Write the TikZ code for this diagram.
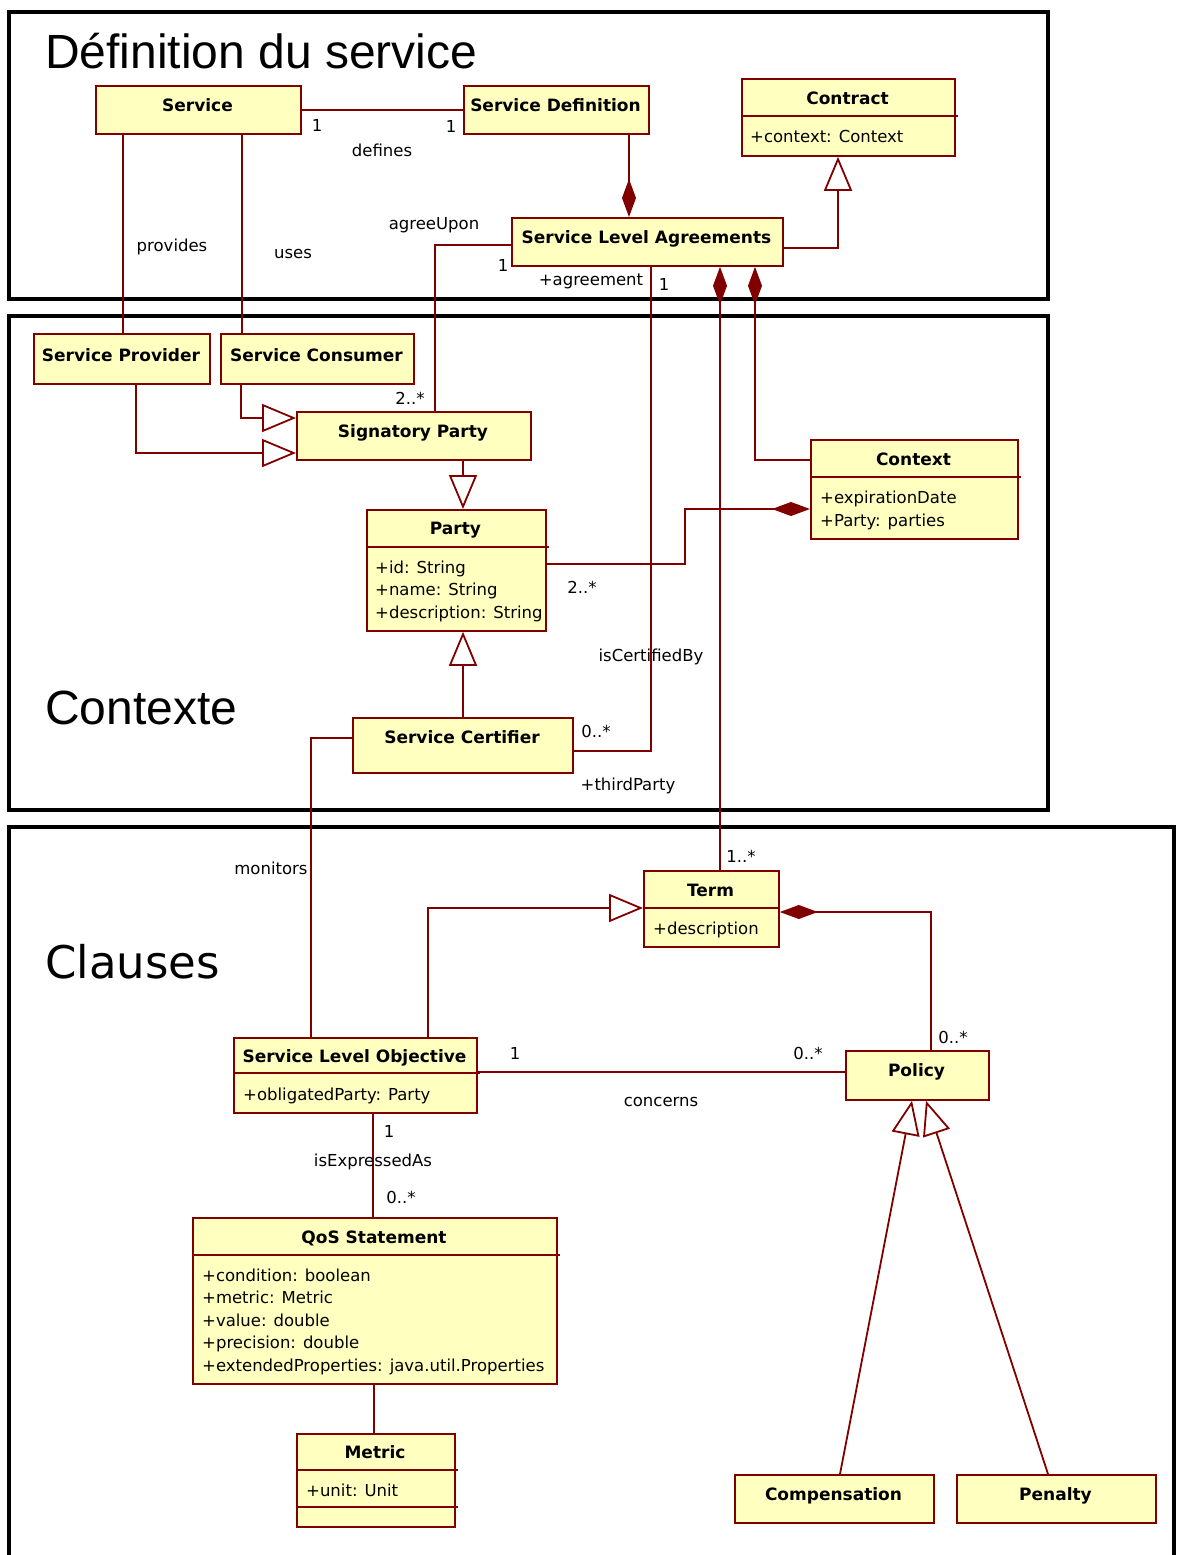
\documentclass[tikz,border=0pt]{standalone}
\usepackage{fontspec}
\setmainfont{DejaVu Sans}
\newfontfamily\titlefont{Liberation Sans}
\newfontfamily\titlefontb{DejaVu Sans}
\usetikzlibrary{arrows.meta}
\definecolor{umlred}{RGB}{128,0,0}
\definecolor{umlfill}{RGB}{255,255,192}
\begin{document}
\begin{tikzpicture}[x=1pt,y=-1pt,
  cls/.style={draw=umlred, fill=umlfill, line width=1.8pt, inner sep=0pt, anchor=north west, rectangle},
  ttl/.style={font=\fontsize{17}{20}\selectfont\bfseries, anchor=base, inner sep=0pt},
  attr/.style={font=\fontsize{16.5}{20}\selectfont, anchor=base west, inner sep=0pt},
  lbl/.style={font=\fontsize{16.5}{20}\selectfont, anchor=base, inner sep=0pt},
  sepline/.style={draw=umlred, line width=1.8pt},
  conn/.style={draw=umlred, line width=1.8pt},
  gen/.style={conn, -{Triangle[open, length=34pt, width=28pt, fill=white]}},
  comp/.style={conn, -{Diamond[length=38pt, width=14pt, fill=umlred]}},
  frame/.style={draw=black, line width=4pt},
  big/.style={font=\titlefont\fontsize{48}{56}\selectfont, anchor=base west, inner sep=0pt}
]
\useasboundingbox (0,0) rectangle (1176,1555);
\clip (0,0) rectangle (1176,1555);
\fill[white] (0,0) rectangle (1176,1555);

% frames
\draw[frame] (9,12) rectangle (1048,299);
\draw[frame] (9,316) rectangle (1048,810);
\draw[frame] (9,827) rectangle (1174,1600);
\node[big] (t1) at (45,68) {Définition du service};
\node[big] (t2) at (45,724) {Contexte};
\node[big, font=\titlefontb\fontsize{45}{54}\selectfont] (t3) at (45,978) {Clauses};

% class boxes
\node[cls, minimum width=205pt, minimum height=48pt] (service) at (95,85) {};
\node[cls, minimum width=185pt, minimum height=48pt] (sdef) at (463,85) {};
\node[cls, minimum width=213pt, minimum height=77pt] (contract) at (741,78) {};
\node[cls, minimum width=271pt, minimum height=48pt] (sla) at (511,217) {};
\node[cls, minimum width=176pt, minimum height=50pt] (sprov) at (33,333) {};
\node[cls, minimum width=193pt, minimum height=50pt] (scons) at (220,333) {};
\node[cls, minimum width=234pt, minimum height=48pt] (sig) at (296,411) {};
\node[cls, minimum width=179pt, minimum height=121pt] (party) at (366,509) {};
\node[cls, minimum width=207pt, minimum height=99pt] (context) at (810,439) {};
\node[cls, minimum width=220pt, minimum height=55pt] (scert) at (352,717) {};
\node[cls, minimum width=135pt, minimum height=76pt] (term) at (643,870) {};
\node[cls, minimum width=243pt, minimum height=75pt] (slo) at (233,1037) {};
\node[cls, minimum width=143pt, minimum height=49pt] (policy) at (845,1050) {};
\node[cls, minimum width=364pt, minimum height=166pt] (qos) at (192,1217) {};
\node[cls, minimum width=158pt, minimum height=93pt] (metric) at (296,1433) {};
\node[cls, minimum width=199pt, minimum height=48pt] (compens) at (734,1474) {};
\node[cls, minimum width=199pt, minimum height=48pt] (pen) at (956,1474) {};

% compartment separators
\coordinate (s1) at (0,116);
\coordinate (s2) at (0,547);
\coordinate (s3) at (0,477);
\coordinate (s4) at (0,908);
\coordinate (s5) at (0,1073);
\coordinate (s6) at (0,1255);
\coordinate (s7) at (0,1470);
\coordinate (s8) at (0,1507);
\draw[sepline] (contract.west |- s1) -- ([xshift=2pt]contract.east |- s1);
\draw[sepline] (party.west |- s2) -- ([xshift=2pt]party.east |- s2);
\draw[sepline] (context.west |- s3) -- ([xshift=2pt]context.east |- s3);
\draw[sepline] (term.west |- s4) -- (term.east |- s4);
\draw[sepline] (slo.west |- s5) -- ([xshift=2pt]slo.east |- s5);
\draw[sepline] (qos.west |- s6) -- ([xshift=2pt]qos.east |- s6);
\draw[sepline] (metric.west |- s7) -- ([xshift=2pt]metric.east |- s7);
\draw[sepline] (metric.west |- s8) -- ([xshift=2pt]metric.east |- s8);

% class names
\node[ttl] (n-service) at (197.5,111) {Service};
\node[ttl] (n-sdef) at (555.5,111) {Service Definition};
\node[ttl] (n-contract) at (847.5,104) {Contract};
\node[ttl] (n-sla) at (646.5,243) {Service Level Agreements};
\node[ttl] (n-sprov) at (121,361) {Service Provider};
\node[ttl] (n-scons) at (316.5,361) {Service Consumer};
\node[ttl] (n-sig) at (413,437) {Signatory Party};
\node[ttl] (n-party) at (455.5,534) {Party};
\node[ttl] (n-context) at (913.5,465) {Context};
\node[ttl] (n-scert) at (462,743) {Service Certifier};
\node[ttl] (n-term) at (710.5,896) {Term};
\node[ttl] (n-slo) at (354.5,1062) {Service Level Objective};
\node[ttl] (n-policy) at (916.5,1076) {Policy};
\node[ttl] (n-qos) at (374,1243) {QoS Statement};
\node[ttl] (n-metric) at (375,1458) {Metric};
\node[ttl] (n-compens) at (833.5,1500) {Compensation};
\node[ttl] (n-pen) at (1055.5,1500) {Penalty};

% attributes
\node[attr] (a-contract) at (750,142) {+context: Context};
\node[attr] (a-party1) at (375,573) {+id: String};
\node[attr] (a-party2) at (375,595) {+name: String};
\node[attr] (a-party3) at (375,618) {+description: String};
\node[attr] (a-ctx1) at (820,503) {+expirationDate};
\node[attr] (a-ctx2) at (820,526) {+Party: parties};
\node[attr] (a-term) at (653,934) {+description};
\node[attr] (a-slo) at (243,1100) {+obligatedParty: Party};
\node[attr] (a-qos1) at (202,1281) {+condition: boolean};
\node[attr] (a-qos2) at (202,1303) {+metric: Metric};
\node[attr] (a-qos3) at (202,1326) {+value: double};
\node[attr] (a-qos4) at (202,1348) {+precision: double};
\node[attr] (a-qos5) at (202,1371) {+extendedProperties: java.util.Properties};
\node[attr] (a-metric) at (306,1496) {+unit: Unit};

% helper coordinates
\coordinate (ysd) at (0,110);
\coordinate (xsd) at (629,0);
\coordinate (xct) at (838,0);
\coordinate (ysla) at (0,248);
\coordinate (xprov) at (123,0);
\coordinate (xuse) at (242,0);
\coordinate (xag) at (435,0);
\coordinate (yag) at (0,245);
\coordinate (xcert) at (651,0);
\coordinate (ycert) at (0,751);
\coordinate (xterm) at (720,0);
\coordinate (xctx) at (755,0);
\coordinate (yctx) at (0,460);
\coordinate (xsp) at (136,0);
\coordinate (ysp) at (0,453);
\coordinate (xsc) at (241,0);
\coordinate (ysc) at (0,418);
\coordinate (xparty) at (463,0);
\coordinate (ypc1) at (0,564);
\coordinate (xpc) at (685,0);
\coordinate (ypc2) at (0,509);
\coordinate (xmon) at (311,0);
\coordinate (ymon) at (0,738);
\coordinate (xst) at (428,0);
\coordinate (yst) at (0,908);
\coordinate (xpt) at (931,0);
\coordinate (ypt) at (0,912);
\coordinate (yconc) at (0,1072);
\coordinate (xexp) at (373,0);
\coordinate (xqm) at (374,0);
\coordinate (xc1) at (840,0);
\coordinate (xc2) at (912,0);
\coordinate (xp1) at (1048,0);
\coordinate (xp2) at (926,0);

% connectors
\draw[conn] (service.east |- ysd) -- (sdef.west |- ysd);
\draw[comp] (sdef.south -| xsd) -- (sla.north -| xsd);
\draw[gen] (sla.east |- ysla) -| (contract.south -| xct);
\draw[conn] (service.south -| xprov) -- (sprov.north -| xprov);
\draw[conn] (service.south -| xuse) -- (scons.north -| xuse);
\draw[conn] (sla.west |- yag) -| (sig.north -| xag);
\draw[conn] (sla.south -| xcert) |- (scert.east |- ycert);
\draw[comp] (term.north -| xterm) -- (sla.south -| xterm);
\draw[comp] (context.west |- yctx) -| (sla.south -| xctx);
\draw[gen] (sprov.south -| xsp) |- (sig.west |- ysp);
\draw[gen] (scons.south -| xsc) |- (sig.west |- ysc);
\draw[gen] (sig.south -| xparty) -- (party.north -| xparty);
\draw[comp] (party.east |- ypc1) -| (xpc |- ypc2) -- (context.west |- ypc2);
\draw[gen] (scert.north -| xparty) -- (party.south -| xparty);
\draw[conn] (scert.west |- ymon) -| (slo.north -| xmon);
\draw[gen] (slo.north -| xst) |- (term.west |- yst);
\draw[comp] (policy.north -| xpt) |- (term.east |- ypt);
\draw[conn] (slo.east |- yconc) -- (policy.west |- yconc);
\draw[conn] (slo.south -| xexp) -- (qos.north -| xexp);
\draw[conn] (qos.south -| xqm) -- (metric.north -| xqm);
\draw[gen] (compens.north -| xc1) -- (policy.south -| xc2);
\draw[gen] (pen.north -| xp1) -- (policy.south -| xp2);

% connector labels
\node[lbl] (l1) at (317,131) {1};
\node[lbl] (l2) at (451,132) {1};
\node[lbl] (l3) at (382,156) {defines};
\node[lbl] (l4) at (172,251) {provides};
\node[lbl] (l5) at (293,258) {uses};
\node[lbl] (l6) at (434,229) {agreeUpon};
\node[lbl] (l7) at (503,271) {1};
\node[lbl] (l8) at (591,285) {+agreement};
\node[lbl] (l9) at (664,290) {1};
\node[lbl] (l10) at (410,404) {2..*};
\node[lbl] (l11) at (582,593) {2..*};
\node[lbl] (l12) at (651,661) {isCertifiedBy};
\node[lbl] (l13) at (596,737) {0..*};
\node[lbl] (l14) at (628,790) {+thirdParty};
\node[lbl] (l15) at (271,874) {monitors};
\node[lbl] (l16) at (741,862) {1..*};
\node[lbl] (l17) at (953,1043) {0..*};
\node[lbl] (l18) at (515,1059) {1};
\node[lbl] (l19) at (808,1059) {0..*};
\node[lbl] (l20) at (661,1106) {concerns};
\node[lbl] (l21) at (389,1137) {1};
\node[lbl] (l22) at (373,1166) {isExpressedAs};
\node[lbl] (l23) at (401,1203) {0..*};
\end{tikzpicture}
\end{document}
